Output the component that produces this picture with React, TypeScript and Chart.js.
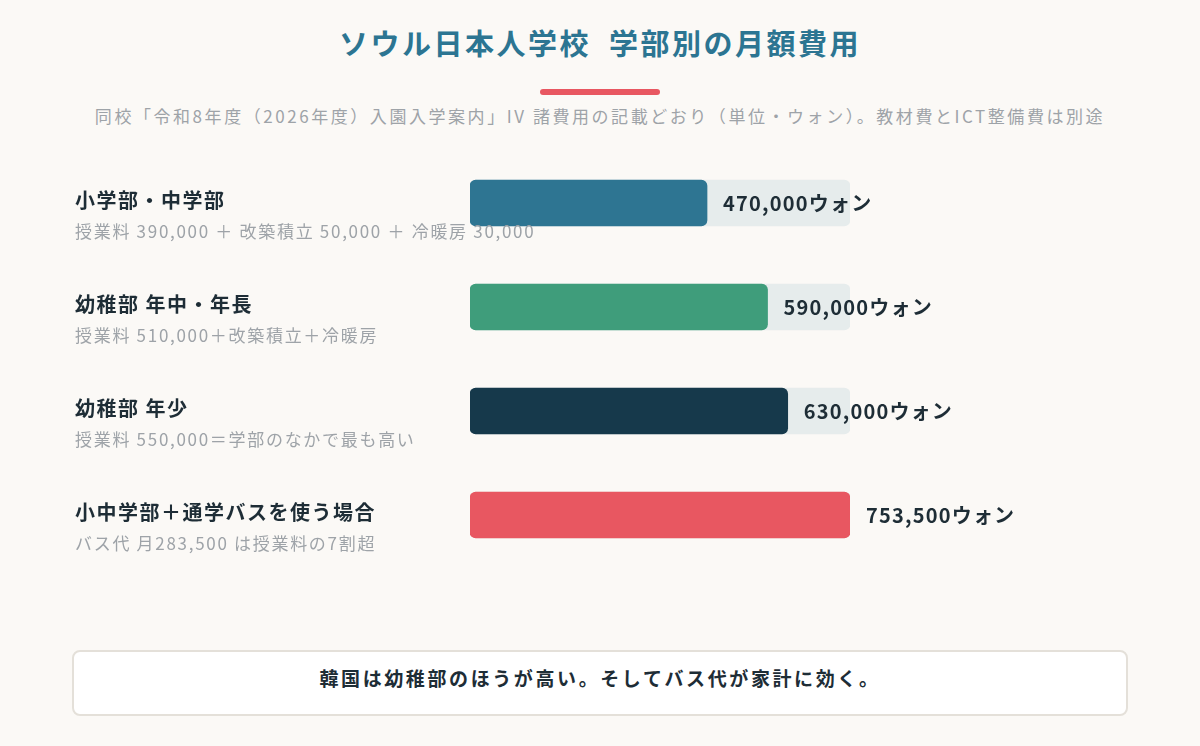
import React, { useRef, useEffect } from "react";
import { Chart, registerables } from "chart.js";

Chart.register(...registerables);

const categories = ["小学部・中学部", "幼稚部 年中・年長", "幼稚部 年少", "小中学部＋通学バスを使う場合"];
const notes = [
  "授業料 390,000 ＋ 改築積立 50,000 ＋ 冷暖房 30,000",
  "授業料 510,000＋改築積立＋冷暖房",
  "授業料 550,000＝学部のなかで最も高い",
  "バス代 月283,500 は授業料の7割超",
];
const monthlyFees = [470000, 590000, 630000, 753500];
const barColors = ["#2e7592", "#3f9d7b", "#16394b", "#e85761"];
const maxFee = 753500;

const FONT = '"Noto Sans CJK JP", "Noto Sans", sans-serif';

const rowLabels = {
  id: "rowLabels",
  afterDatasetsDraw(chart: Chart) {
    const ctx = chart.ctx as any;
    const meta = chart.getDatasetMeta(0);
    ctx.save();
    meta.data.forEach((bar: any, i: number) => {
      const y = bar.y;
      ctx.textAlign = "left";
      ctx.textBaseline = "middle";
      // row title and the note under it
      ctx.fillStyle = "#1e2d36";
      ctx.font = `bold 20px ${FONT}`;
      ctx.letterSpacing = "1.5px";
      ctx.fillText(categories[i], 75, y - 3);
      ctx.fillStyle = "#9ea3a8";
      ctx.font = `17px ${FONT}`;
      ctx.letterSpacing = "1.7px";
      ctx.fillText(notes[i], 75, y + 29);
      // value just past the bar end
      ctx.fillStyle = "#1e2d36";
      ctx.font = `bold 20px ${FONT}`;
      ctx.letterSpacing = "1.2px";
      ctx.fillText(monthlyFees[i].toLocaleString("en-US") + "ウォン", bar.x + 16, y);
    });
    ctx.restore();
  },
};

const FeeBars = () => {
  const canvasRef = useRef<HTMLCanvasElement>(null);
  const chartRef = useRef<Chart | null>(null);

  useEffect(() => {
    if (!canvasRef.current) return;
    chartRef.current = new Chart(canvasRef.current, {
      type: "bar",
      data: {
        labels: categories,
        datasets: [
          {
            data: monthlyFees,
            backgroundColor: barColors,
            borderRadius: 6,
            borderSkipped: false,
            barThickness: 46,
            grouped: false,
            order: 1,
          },
          {
            // light track behind each bar
            data: categories.map(() => maxFee),
            backgroundColor: "#e6ecec",
            borderRadius: 6,
            borderSkipped: false,
            barThickness: 46,
            grouped: false,
            order: 2,
          },
        ],
      },
      options: {
        indexAxis: "y",
        animation: false,
        responsive: true,
        maintainAspectRatio: false,
        layout: { padding: { left: 470, right: 350, top: 0, bottom: 0 } },
        scales: {
          x: { display: false, min: 0, max: maxFee },
          y: { display: false },
        },
        plugins: {
          legend: { display: false },
          tooltip: { enabled: false },
        },
      },
      plugins: [rowLabels],
    });
    return () => {
      chartRef.current?.destroy();
      chartRef.current = null;
    };
  }, []);

  return (
    <div style={{ position: "absolute", left: 0, top: 151, width: 1200, height: 416 }}>
      <canvas ref={canvasRef} />
    </div>
  );
};

export default function App() {
  useEffect(() => {
    document.body.style.margin = "0";
  }, []);
  return (
    <div
      style={{
        position: "relative",
        width: 1200,
        height: 746,
        background: "#fbf9f6",
        fontFamily: FONT,
        overflow: "hidden",
      }}
    >
      <div
        style={{
          position: "absolute",
          top: 22,
          left: 0,
          width: 1200,
          textAlign: "center",
          fontSize: 29,
          fontWeight: 700,
          letterSpacing: 2.5,
          color: "#2c7592",
          lineHeight: "40px",
          whiteSpace: "pre",
        }}
      >
        {"ソウル日本人学校  学部別の月額費用"}
      </div>
      <div
        style={{
          position: "absolute",
          top: 89,
          left: 540,
          width: 120,
          height: 6,
          borderRadius: 3,
          background: "#e85761",
        }}
      />
      <div
        style={{
          position: "absolute",
          top: 104,
          left: 0,
          width: 1200,
          textAlign: "center",
          fontSize: 17,
          letterSpacing: 2.55,
          color: "#9ea3a8",
          lineHeight: "24px",
          whiteSpace: "nowrap",
        }}
      >
        同校「令和8年度（2026年度）入園入学案内」IV 諸費用の記載どおり（単位・ウォン）。教材費とICT整備費は別途
      </div>
      <FeeBars />
      <div
        style={{
          position: "absolute",
          left: 72,
          top: 650,
          width: 1056,
          height: 66,
          boxSizing: "border-box",
          border: "2px solid #e4e0d9",
          borderRadius: 8,
          background: "#ffffff",
          textAlign: "center",
          fontSize: 19,
          fontWeight: 700,
          letterSpacing: 2.6,
          color: "#1e2d36",
          lineHeight: "52px",
        }}
      >
        韓国は幼稚部のほうが高い。そしてバス代が家計に効く。
      </div>
    </div>
  );
}
